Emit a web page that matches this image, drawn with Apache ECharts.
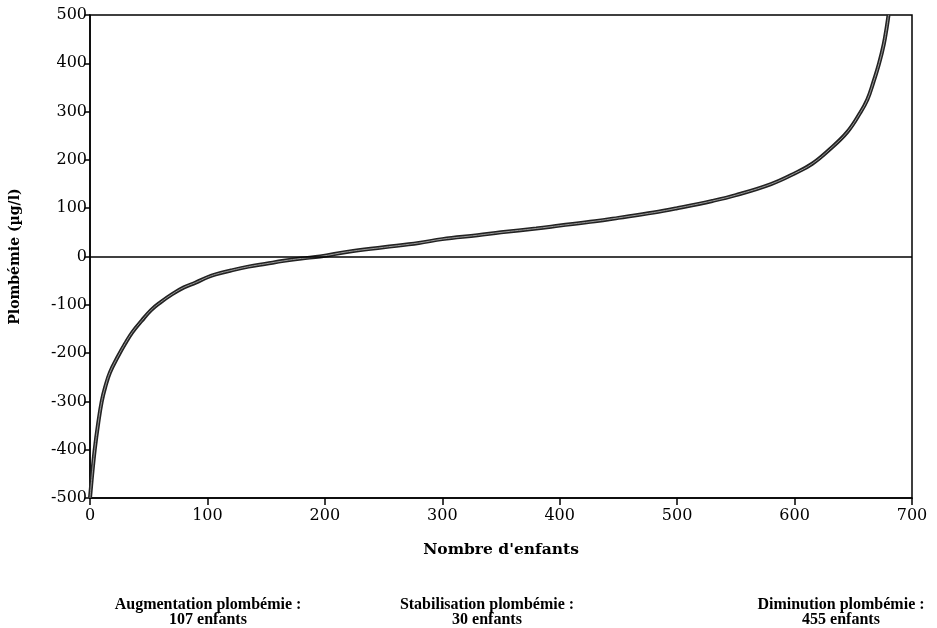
<!DOCTYPE html>
<html>
<head>
<meta charset="utf-8">
<script src="https://cdn.jsdelivr.net/npm/echarts@6/dist/echarts.min.js"></script>
<style>
  html, body { margin: 0; padding: 0; background: #fff; }
  #chart { width: 937px; height: 628px; }
</style>
</head>
<body>
<div id="chart"></div>
<script>
// children ranked by change in blood lead (x), change in µg/l (y)
const enfants = [0, 1.5, 4, 7, 10, 13, 17, 24, 30, 36, 44, 52, 60, 70, 80, 90, 100, 107, 120, 135, 150, 165, 180, 196,
  220, 250, 280, 300, 330, 350, 380, 400, 430, 450, 480, 500, 530, 550, 580, 600, 615, 630, 645, 656, 662, 667, 672, 676, 678.5, 680];
const plombemie = [-500, -460, -400, -345, -300, -270, -240, -206, -180, -157, -133, -111, -95, -78, -64, -54, -43, -37, -29, -21, -15, -9, -4, 0,
  10, 19, 28, 36, 44, 50, 58, 64, 73, 80, 91, 100, 115, 127, 150, 172, 192, 222, 258, 298, 325, 360, 400, 440, 475, 500];
const resume = [
  ['Augmentation plombémie :', '107 enfants'],
  ['Stabilisation plombémie :', '30 enfants'],
  ['Diminution plombémie :', '455 enfants']
];
const resumeX = [208, 487, 841];

const serif = 'DejaVu Serif';
const chart = echarts.init(document.getElementById('chart'));
const points = enfants.map((x, i) => [x, plombemie[i]]);

chart.setOption({
  animation: false,
  grid: { left: 90, right: 25, top: 15, bottom: 130, show: true, borderColor: '#000', borderWidth: 1.5 },
  xAxis: {
    type: 'value', min: 0, max: 700, interval: 100,
    name: "Nombre d'enfants", nameLocation: 'middle', nameGap: 44,
    nameTextStyle: { fontFamily: serif, fontWeight: 'bold', fontSize: 15.5, color: '#000' },
    axisLine: { onZero: false, lineStyle: { color: '#000', width: 1.5 } },
    axisTick: { length: 7, lineStyle: { color: '#000', width: 1.5 } },
    axisLabel: { fontFamily: serif, fontSize: 16, color: '#000', margin: 10 },
    splitLine: { show: false }
  },
  yAxis: {
    type: 'value', min: -500, max: 500, interval: 100,
    name: 'Plombémie (µg/l)', nameLocation: 'middle', nameGap: 68,
    nameTextStyle: { fontFamily: serif, fontWeight: 'bold', fontSize: 14, color: '#000' },
    axisLine: { onZero: false, lineStyle: { color: '#000', width: 1.5 } },
    axisTick: { length: 5, lineStyle: { color: '#000', width: 1.5 } },
    axisLabel: { fontFamily: serif, fontSize: 16, color: '#000', margin: 3 },
    splitLine: { show: false }
  },
  series: [
    {
      type: 'line', data: points, smooth: 0.4, symbol: 'none', clip: true,
      lineStyle: { color: '#222', width: 4 },
      markLine: {
        silent: true, symbol: 'none', label: { show: false },
        lineStyle: { color: '#000', width: 1.5, type: 'solid' },
        data: [{ yAxis: 0 }]
      }
    },
    {
      type: 'line', data: points, smooth: 0.4, symbol: 'none', clip: true,
      lineStyle: { color: '#9a9a9a', width: 1 }
    }
  ],
  graphic: resume.map((r, i) => ({
    type: 'text',
    x: resumeX[i],
    y: 597,
    style: {
      text: r[0] + '\n' + r[1],
      align: 'center',
      verticalAlign: 'top',
      font: 'bold 16px "Liberation Serif"',
      lineHeight: 15,
      fill: '#000'
    }
  }))
});
</script>
</body>
</html>
